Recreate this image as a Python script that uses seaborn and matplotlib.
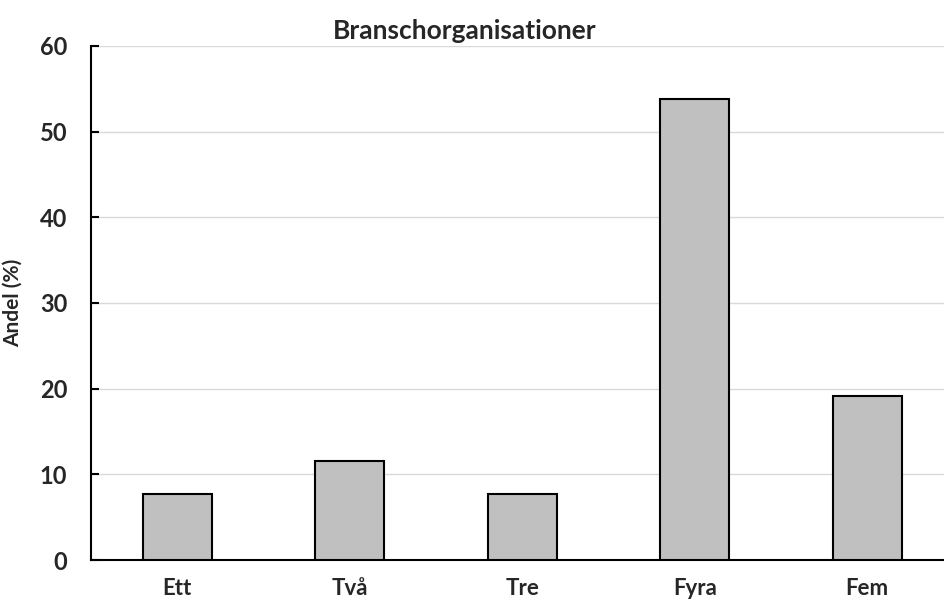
import matplotlib
matplotlib.use("Agg")
import matplotlib.pyplot as plt
import seaborn as sns
import pandas as pd

categories = ["Ett", "Två", "Tre", "Fyra", "Fem"]
values = [7.7, 11.5, 7.7, 53.8, 19.2]

sns.set_style("white")
plt.rcParams['font.family'] = ['Lato', 'DejaVu Sans']
plt.rcParams['font.weight'] = 'bold'

df = pd.DataFrame({"kategori": categories, "andel": values})

fig = plt.figure(figsize=(9.44, 6.01), dpi=100)
ax = fig.add_axes([0.0964, 0.0682, 0.9036, 0.8553])

sns.barplot(data=df, x="kategori", y="andel", color="#c0c0c0", saturation=1,
            edgecolor="black", linewidth=1.5, width=0.4, ax=ax, zorder=3)

ax.set_xlim(-0.5, 4.445)
ax.set_ylim(0, 60)
ax.set_yticks(range(0, 61, 10))
ax.yaxis.grid(True, color="#d9d9d9", linewidth=1.0, zorder=0)
ax.set_axisbelow(True)

for side in ["top", "right"]:
    ax.spines[side].set_visible(False)
for side in ["left", "bottom"]:
    ax.spines[side].set_color("black")
    ax.spines[side].set_linewidth(1.5)

ax.set_xticks([0.5, 1.5, 2.5, 3.5], minor=True)
ax.tick_params(axis="x", which="major", length=0, pad=13, labelsize=16)
ax.tick_params(axis="x", which="minor", direction="in", length=6, width=1.5, color="black")
ax.tick_params(axis="y", direction="in", length=6, width=1.5, color="black", labelsize=17, pad=17, left=True)

ax.set_xlabel("")
ax.set_ylabel("Andel (%)", fontsize=15, fontweight="bold", labelpad=12)
ax.set_title("Branschorganisationer", fontsize=19, fontweight="bold", pad=5, x=0.438)

fig.savefig("out.png", dpi=100)
